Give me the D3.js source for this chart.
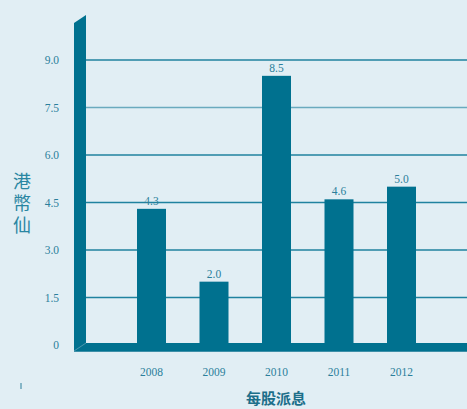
<!DOCTYPE html>
<html>
<head>
<meta charset="utf-8">
<script src="https://cdn.jsdelivr.net/npm/d3@7"></script>
<style>
  html, body { margin: 0; padding: 0; background: #e1eef4; }
  svg { display: block; }
</style>
</head>
<body>
<div id="chart"></div>
<script>
// data
var years = ["2008", "2009", "2010", "2011", "2012"];
var dividends = [4.3, 2.0, 8.5, 4.6, 5.0];
var yTicks = [0, 1.5, 3.0, 4.5, 6.0, 7.5, 9.0];
var yTitle = "港幣仙";
var xTitle = "每股派息";

var W = 467, H = 409;
var dark = "#00718f";
var textCol = "#2b7f9b";

var svg = d3.select("#chart").append("svg")
    .attr("width", W)
    .attr("height", H);

svg.append("rect").attr("width", W).attr("height", H).attr("fill", "#e1eef4");

// scales
var y = d3.scaleLinear().domain([0, 9]).range([345, 60]);
var x = d3.scaleBand().domain(years).range([86, 467])
    .paddingInner(0.536).paddingOuter(0.816);

// grid lines
svg.selectAll(".grid")
    .data(yTicks.filter(function(d) { return d > 0; }))
    .enter().append("line")
    .attr("x1", 86).attr("x2", W)
    .attr("y1", function(d) { return y(d); })
    .attr("y2", function(d) { return y(d); })
    .attr("stroke", function(d) { return d === 7.5 ? "#6aaabe" : "#1f829f"; })
    .attr("stroke-width", 1.3);

// tick labels
svg.selectAll(".ytick")
    .data(yTicks)
    .enter().append("text")
    .attr("x", 59)
    .attr("y", function(d) { return y(d); })
    .attr("dy", "0.35em")
    .attr("text-anchor", "end")
    .attr("font-family", "Liberation Serif, serif")
    .attr("font-size", 11.5)
    .attr("fill", textCol)
    .text(function(d) { return d === 0 ? "0" : d.toFixed(1); });

// bars
svg.selectAll(".bar")
    .data(dividends)
    .enter().append("rect")
    .attr("x", function(d, i) { return x(years[i]); })
    .attr("width", x.bandwidth())
    .attr("y", function(d) { return y(d); })
    .attr("height", function(d) { return y(0) - y(d); })
    .attr("fill", dark);

// value labels
svg.selectAll(".val")
    .data(dividends)
    .enter().append("text")
    .attr("x", function(d, i) { return x(years[i]) + x.bandwidth() / 2; })
    .attr("y", function(d) { return y(d) - 4; })
    .attr("text-anchor", "middle")
    .attr("font-family", "Liberation Serif, serif")
    .attr("font-size", 11.5)
    .attr("fill", textCol)
    .text(function(d) { return d.toFixed(1); });

// floor and wall
svg.append("rect")
    .attr("x", 74).attr("y", y(0) - 2)
    .attr("width", W - 74).attr("height", 8)
    .attr("fill", dark);
svg.append("line")
    .attr("x1", 74).attr("x2", W)
    .attr("y1", y(0) + 6.5).attr("y2", y(0) + 6.5)
    .attr("stroke", "#3d8fa8").attr("stroke-width", 1);
svg.append("path")
    .attr("d", "M74,23 L86,15 L86," + (y(0) - 2) + " L74," + (y(0) + 6) + " Z")
    .attr("fill", dark);
svg.append("line")
    .attr("x1", 74).attr("y1", y(0) + 6)
    .attr("x2", 86).attr("y2", y(0) - 2)
    .attr("stroke", "#5a9fb5").attr("stroke-width", 0.8);

// x tick labels
svg.selectAll(".xtick")
    .data(years)
    .enter().append("text")
    .attr("x", function(d) { return x(d) + x.bandwidth() / 2; })
    .attr("y", 376)
    .attr("text-anchor", "middle")
    .attr("font-family", "Liberation Serif, serif")
    .attr("font-size", 11.5)
    .attr("fill", textCol)
    .text(function(d) { return d; });

// y title, written top to bottom
svg.append("text")
    .attr("x", 22)
    .attr("y", 205)
    .attr("text-anchor", "middle")
    .style("writing-mode", "vertical-rl")
    .style("letter-spacing", "4px")
    .attr("font-family", "Noto Sans CJK TC, sans-serif")
    .attr("font-size", 18)
    .attr("fill", "#2a86a2")
    .text(yTitle);

// x title
svg.append("text")
    .attr("x", 276)
    .attr("y", 404)
    .attr("text-anchor", "middle")
    .attr("font-family", "Noto Sans CJK TC, sans-serif")
    .attr("font-size", 15)
    .attr("font-weight", "bold")
    .attr("fill", "#1c6f8a")
    .text(xTitle);

// small stray mark bottom left
svg.append("line")
    .attr("x1", 21).attr("x2", 21)
    .attr("y1", 383).attr("y2", 389)
    .attr("stroke", textCol).attr("stroke-width", 1);
</script>
</body>
</html>
